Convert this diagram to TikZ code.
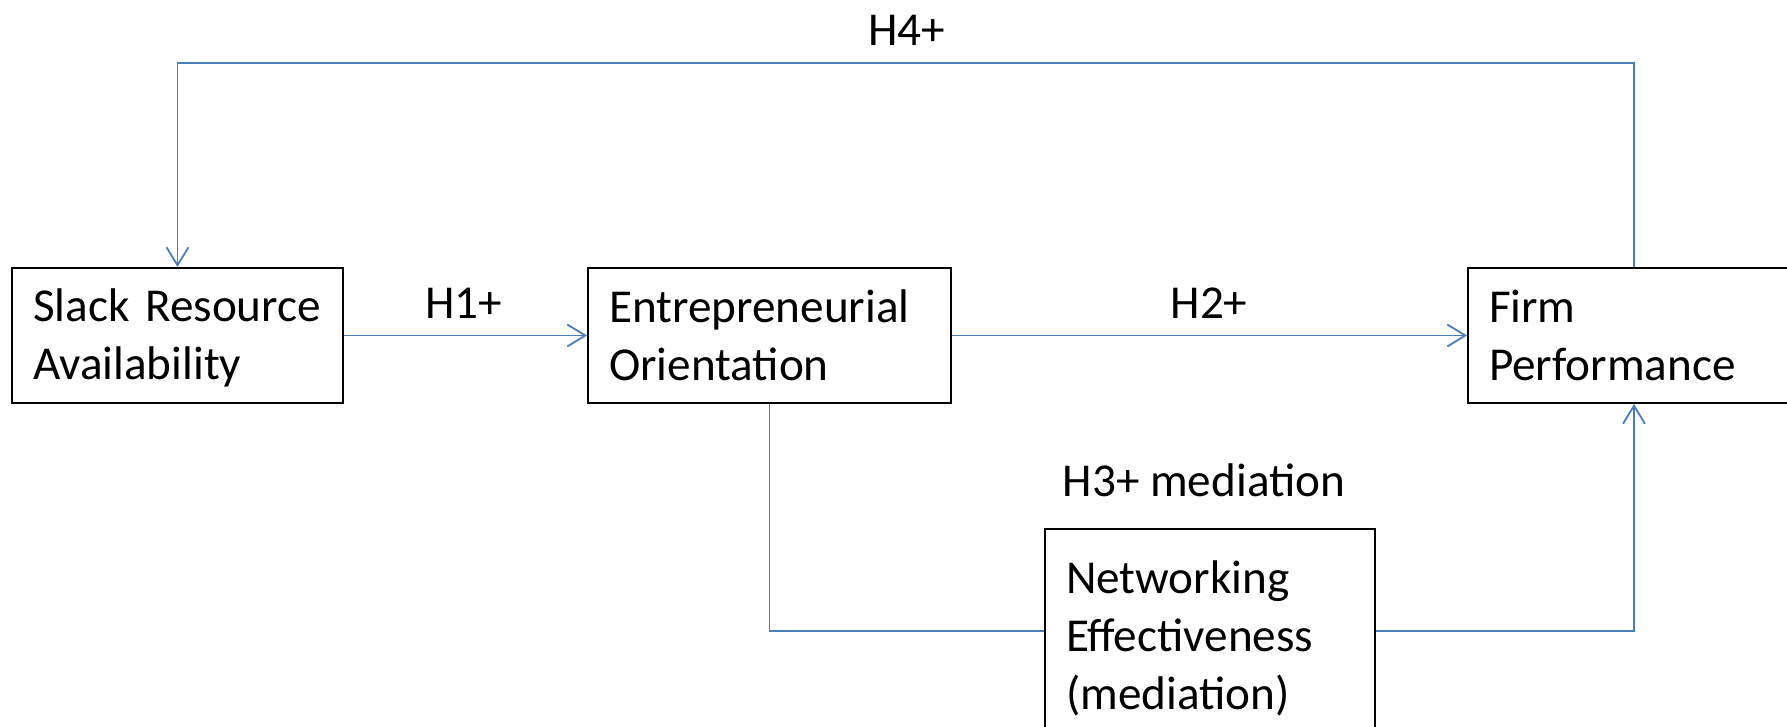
\documentclass[tikz,border=0pt]{standalone}
\usepackage{fontspec}
\setmainfont{Carlito}
\usepackage{xcolor}
\usetikzlibrary{arrows.meta}

\definecolor{lienbleu}{RGB}{74,126,187}

\tikzset{
    boite/.style={draw=black, line width=1pt, rectangle, anchor=north west,
        align=left, inner xsep=10.5pt, inner ysep=0pt},
    lien/.style={draw=lienbleu, line width=0.9pt},
    fleche/.style={lien, -{Straight Barb[length=9pt, width=11pt]}},
    etiquette/.style={inner sep=0pt}
}

\begin{document}
\begin{tikzpicture}[x=0.5pt, y=-0.5pt, font=\fontsize{23.6}{29}\selectfont]
                % Cadre de l'image
                \useasboundingbox (0,0) rectangle (1787,727);
                \clip (0,0) rectangle (1787,727);

                % Dessiner les boites
                \node[boite, minimum width=165.5pt, minimum height=67.5pt, text width=144.5pt]
                    (slack) at (11,267) {\rule{0pt}{19pt}\mbox{Slack Resource}\\Availability};
                \node[boite, minimum width=181.5pt, minimum height=67.5pt, text width=160.5pt]
                    (eo) at (587,267) {Entrepreneurial\\Orientation};
                \node[boite, minimum width=166pt, minimum height=67.5pt, text width=145pt]
                    (firm) at (1467,267) {Firm\\Performance};
                \node[boite, minimum width=165pt, minimum height=102pt, text width=144pt]
                    (net) at (1044,528) {\rule{0pt}{24pt}Networking\\Effectiveness\\(mediation)};

                % Point de passage de la boucle du haut
                \coordinate (haut) at (912,63);

                % Ajouter les liens
                \draw[fleche] (slack.east) -- (eo.west);
                \draw[fleche] (eo.east) -- (firm.west);
                \draw[fleche] (firm.north) |- (haut) -| (slack.north);
                \draw[lien] (eo.south) |- (net.west);
                \draw[fleche] (net.east) -| (firm.south);

                % Ajouter les hypotheses
                \node[etiquette] (h1) at (464,303) {H1+};
                \node[etiquette] (h2) at (1209,303) {H2+};
                \node[etiquette] (h3) at (1204,480) {H3+ mediation};
                \node[etiquette] (h4) at (907,30) {H4+};
\end{tikzpicture}
\end{document}
